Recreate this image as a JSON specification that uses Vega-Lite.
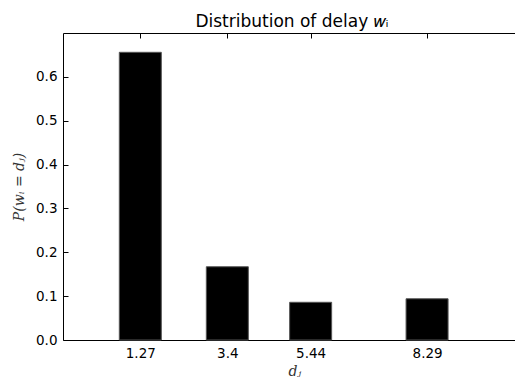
{
  "$schema": "https://vega.github.io/schema/vega-lite/v6.json",
  "autosize": {"type": "none"},
  "padding": {"left": 63, "top": 33, "right": 0, "bottom": 41},
  "width": 452,
  "height": 307,
  "background": "white",
  "title": {
    "text": "Distribution of delay 𝑤ᵢ",
    "font": "DejaVu Sans",
    "fontSize": 17,
    "fontWeight": "normal",
    "color": "#000",
    "offset": 2,
    "anchor": "middle",
    "frame": "group",
    "dx": 3
  },
  "data": {
    "values": [
      {"d": 1.27, "p": 0.656},
      {"d": 3.4, "p": 0.167},
      {"d": 5.44, "p": 0.086},
      {"d": 8.29, "p": 0.094}
    ]
  },
  "config": {
    "view": {"stroke": null},
    "axis": {
      "grid": false,
      "domain": true,
      "domainColor": "#000",
      "domainWidth": 1,
      "tickColor": "#000",
      "tickSize": -5,
      "labelColor": "#000",
      "titleFont": "DejaVu Serif",
      "titleFontStyle": "italic",
      "titleFontWeight": "normal",
      "titleFontSize": 14,
      "titleColor": "#333"
    }
  },
  "resolve": {"axis": {"x": "independent"}},
  "layer": [
    {
      "mark": {"type": "bar", "size": 42, "fill": "#000", "stroke": "#555", "strokeWidth": 1},
      "encoding": {
        "x": {
          "field": "d",
          "type": "quantitative",
          "scale": {"domain": [-0.5, 10.32], "nice": false, "zero": false},
          "axis": {
            "orient": "bottom",
            "values": [1.27, 3.4, 5.44, 8.29],
            "labelExpr": "'' + datum.value",
            "labelFont": "DejaVu Sans",
            "labelFontSize": 13.5,
            "labelPadding": 11,
            "title": "dⱼ",
            "titlePadding": 5,
            "titleAnchor": "start",
            "titleX": 225
          }
        },
        "y": {
          "field": "p",
          "type": "quantitative",
          "scale": {"domain": [0, 0.7], "nice": false},
          "axis": {
            "values": [0, 0.1, 0.2, 0.3, 0.4, 0.5, 0.6],
            "format": ".1f",
            "labelFont": "DejaVu Sans",
            "labelFontSize": 13.5,
            "labelPadding": 11,
            "title": "P(wᵢ = dⱼ)",
            "titlePadding": 9
          }
        }
      }
    },
    {
      "mark": {"type": "tick", "opacity": 0},
      "encoding": {
        "x": {
          "field": "d",
          "type": "quantitative",
          "axis": {
            "orient": "top",
            "values": [1.27, 3.4, 5.44, 8.29],
            "labels": false,
            "title": null
          }
        },
        "y": {"field": "p", "type": "quantitative"}
      }
    }
  ]
}
